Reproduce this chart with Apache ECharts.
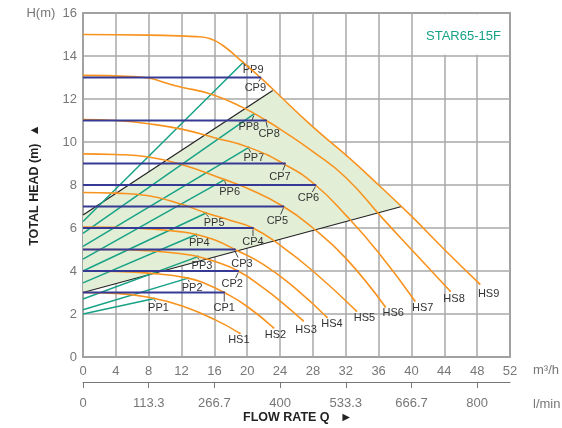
<!DOCTYPE html>
<html><head><meta charset="utf-8">
<script src="https://cdn.jsdelivr.net/npm/echarts@6/dist/echarts.min.js"></script>
<style>html,body{margin:0;padding:0;background:#fff}#c{width:562px;height:428px}</style>
</head><body><div id="c"></div>
<script>
// ---------- data ----------
const modelName = 'STAR65-15F';
const lminTickQ = [0, 8, 16, 24, 32, 40, 48];
const lminLabels = ['0', '113.3', '266.7', '400', '533.3', '666.7', '800'];

const hs1 = [[0,3.0],[4,2.96],[8.7,2.72],[12,2.38],[16,1.75],[19.1,1.1]];
const hs2 = [[0,4.0],[4,3.98],[8,3.9],[12.8,3.67],[15,3.4],[17.2,3.0],[20,2.35],[23.2,1.36]];
const hs3 = [[0,5.0],[4,5.0],[8,4.94],[12,4.8],[14,4.67],[16,4.45],[18.9,4.0],[22,3.2],[24.5,2.45],[26.8,1.69]];
const hs4 = [[0,6.05],[4,6.03],[8,5.96],[12,5.82],[13.8,5.7],[16,5.45],[18.5,5.0],[22,4.3],[26,3.15],[29.7,1.85]];
const hs5 = [[0,7.65],[4,7.62],[8,7.5],[12,7.1],[15,6.7],[18,6.35],[20.7,6.0],[24,5.2],[28,4.0],[33.3,2.14]];
const hs6 = [[0,9.45],[4,9.42],[8,9.3],[12,8.95],[17.25,8.25],[20,7.85],[24.4,7.0],[28,6.0],[32,4.6],[36.8,2.34]];
const hs7 = [[0,11.05],[4,11.0],[8,10.85],[12,10.6],[16,10.2],[20.2,9.75],[24.6,8.95],[28.3,8.0],[32,6.6],[36,4.85],[40.4,2.62]];
const hs8 = [[0,13.1],[6,13.05],[12,12.55],[15.8,12.2],[19.5,11.6],[22.3,11.0],[24,10.6],[28,9.55],[32,8.35],[36.6,6.4],[40,5.0],[44.7,3.07]];
const hs9 = [[0,15.0],[8,14.97],[13.8,14.9],[15.5,14.8],[17,14.5],[19.5,13.7],[21.6,13.0],[23,12.5],[28,10.7],[32,9.4],[36,8.0],[40,6.55],[44,5.0],[48.3,3.4]];
const hsCurves = [hs1, hs2, hs3, hs4, hs5, hs6, hs7, hs8, hs9];
const hsNames = ['HS1','HS2','HS3','HS4','HS5','HS6','HS7','HS8','HS9'];

const ppNames = ['PP1','PP2','PP3','PP4','PP5','PP6','PP7','PP8','PP9'];
const ppStartH = [2.0, 2.2, 2.7, 3.45, 4.0, 4.55, 5.15, 5.75, 6.3];
const ppEndQ = [8.7, 12.8, 14.0, 13.8, 15.0, 17.25, 20.2, 20.8, 19.5];
const ppEndH = [2.72, 3.67, 4.67, 5.7, 6.7, 8.25, 9.75, 11.3, 13.7];

const cpNames = ['CP1','CP2','CP3','CP4','CP5','CP6','CP7','CP8','CP9'];
const cpH = [3, 4, 5, 6, 7, 8, 9, 11, 13];
const cpEndQ = [17.2, 18.9, 18.5, 20.7, 24.4, 28.3, 24.6, 22.3, 21.6];

const boundUpper = [[0,6.6],[23.1,12.4]];
const boundLower = [[0,3.0],[38.8,7.0]];
const shadeArea = [[0,3.0],[0,6.6],[23.1,12.4],[38.8,7.0]];

// ---------- styles ----------
const FONT = '"Liberation Sans", Arial, Helvetica, sans-serif';
const ORANGE = '#f7931e', TEAL = '#17a286', NAVY = '#373a94', BLACK = '#222', SHADE = '#e3eed7';
const hsOff = [[-1,7],[2,7],[3,9],[5,7],[8,7],[8,6],[8,7],[4,8],[9,10]];
const ppOff = [[4,9],[4,10],[4,9],[3,9],[8,10],[5,12],[5,11],[-5,13],[10,8]];
const cpOff = [[0,15],[-6,13],[7,14],[0,14],[-6,14],[-7,13],[-5,13],[3,13],[-5,10]];

function endLabelData(pts, text) {
  return pts.map((p, i) => {
    if (i !== pts.length - 1) return { value: p, symbol: 'none' };
    return {
      value: p, symbol: 'circle', symbolSize: 2,
      label: { show: true, formatter: text, position: 'inside', color: '#333', fontSize: 11, fontFamily: FONT }
    };
  });
}

const series = [];
series.push({
  type: 'custom', silent: true, z: 1, animation: false,
  data: shadeArea,
  renderItem: function (params, api) {
    if (params.dataIndex !== 0) return null;
    const pts = shadeArea.map(p => api.coord(p));
    return { type: 'polygon', shape: { points: pts }, style: { fill: SHADE } };
  },
  markArea: {
    silent: true, itemStyle: { color: '#fff', opacity: 1 },
    data: [[{ coord: [40.2, 14.06] }, { coord: [51.85, 15.94] }]]
  }
});
[boundUpper, boundLower].forEach(d => series.push({
  type: 'line', data: d, symbol: 'none', silent: true, z: 3, animation: false,
  lineStyle: { color: BLACK, width: 1.2 }
}));
ppNames.forEach((n, i) => {
  const pts = [[0, ppStartH[i]], [ppEndQ[i], ppEndH[i]]];
  series.push({
    type: 'line', data: endLabelData(pts, n), z: 4, silent: true, animation: false,
    itemStyle: { color: TEAL }, lineStyle: { color: TEAL, width: 1.5 },
    labelLayout: { dx: ppOff[i][0], dy: ppOff[i][1] }
  });
});
hsCurves.forEach((d, i) => {
  series.push({
    type: 'line', data: endLabelData(d, hsNames[i]), z: 5, silent: true, animation: false,
    smooth: 0.5,
    itemStyle: { color: ORANGE }, lineStyle: { color: ORANGE, width: 1.6 },
    labelLayout: { dx: hsOff[i][0], dy: hsOff[i][1] }
  });
});
cpNames.forEach((n, i) => {
  const pts = [[0, cpH[i]], [cpEndQ[i], cpH[i]]];
  series.push({
    type: 'line', data: endLabelData(pts, n), z: 6, silent: true, animation: false,
    itemStyle: { color: NAVY }, lineStyle: { color: NAVY, width: 1.8 },
    labelLayout: { dx: cpOff[i][0], dy: cpOff[i][1] }
  });
});
// small leader ticks between line ends and PP / CP labels
const leaderPts = [], leaderOff = [];
ppNames.forEach((n, i) => { leaderPts.push([ppEndQ[i], ppEndH[i]]); leaderOff.push(ppOff[i]); });
cpNames.forEach((n, i) => { leaderPts.push([cpEndQ[i], cpH[i]]); leaderOff.push(cpOff[i]); });
series.push({
  type: 'custom', silent: true, z: 7, animation: false,
  data: leaderPts,
  renderItem: function (params, api) {
    const c = api.coord([api.value(0), api.value(1)]);
    const o = leaderOff[params.dataIndex];
    const k = (o[1] - 6) / o[1];
    return {
      type: 'line',
      shape: { x1: c[0], y1: c[1] + 1.5, x2: c[0] + o[0] * k * 0.8, y2: c[1] + o[1] - 6 },
      style: { stroke: '#444', lineWidth: 1 }
    };
  }
});

const option = {
  animation: false,
  backgroundColor: '#fff',
  textStyle: { fontFamily: FONT },
  title: [
    { text: modelName, left: 421, top: 25, textStyle: { color: '#17a286', fontSize: 13, fontWeight: 'normal', fontFamily: FONT } },
    { text: 'FLOW RATE Q   \u25BA', left: 238, top: 406, textStyle: { color: '#222', fontSize: 12.5, fontWeight: 'bold', fontFamily: FONT } }
  ],
  grid: { left: 83, right: 52, top: 13, bottom: 71, show: true, borderColor: '#666', borderWidth: 1.5,
          backgroundColor: 'transparent', containLabel: false, outerBoundsMode: 'none' },
  xAxis: [
    {
      type: 'value', min: 0, max: 52, interval: 4,
      axisLine: { show: false }, axisTick: { show: false },
      axisLabel: { color: '#777', fontSize: 13, margin: 8, fontFamily: FONT },
      splitLine: { show: true, lineStyle: { color: '#a8a8a8', width: 1.5 } }
    },
    {
      type: 'value', min: 0, max: 52, interval: 8, position: 'bottom', offset: 25,
      axisLine: { show: true, lineStyle: { color: '#777', width: 1 } },
      axisTick: { show: true, length: 6, lineStyle: { color: '#777' }, customValues: lminTickQ },
      axisLabel: {
        color: '#777', fontSize: 13, margin: 15, fontFamily: FONT, customValues: lminTickQ,
        formatter: v => { const k = lminTickQ.indexOf(v); return k >= 0 ? lminLabels[k] : ''; }
      },
      splitLine: { show: false }
    }
  ],
  yAxis: {
    type: 'value', min: 0, max: 16, interval: 2,
    axisLine: { show: false }, axisTick: { show: false },
    axisLabel: {
      color: '#777', fontSize: 13, margin: 6, fontFamily: FONT,
      formatter: v => v === 16 ? 'H(m)  16' : String(v)
    },
    splitLine: { show: true, lineStyle: { color: '#a8a8a8', width: 1.5 } },
    name: 'TOTAL HEAD (m)  \u25B2', nameLocation: 'middle', nameRotate: 90, nameGap: 42, nameMoveOverlap: false,
    nameTextStyle: { color: '#222', fontSize: 12.5, fontWeight: 'bold', fontFamily: FONT }
  },
  graphic: [
    { type: 'text', left: 533, top: 364, style: { text: 'm\u00B3/h', fill: '#777', font: '13px ' + FONT } },
    { type: 'text', left: 533, top: 398, style: { text: 'l/min', fill: '#777', font: '13px ' + FONT } }
  ],
  series: series
};
const chart = echarts.init(document.getElementById('c'));
chart.setOption(option);
</script>
</body></html>
